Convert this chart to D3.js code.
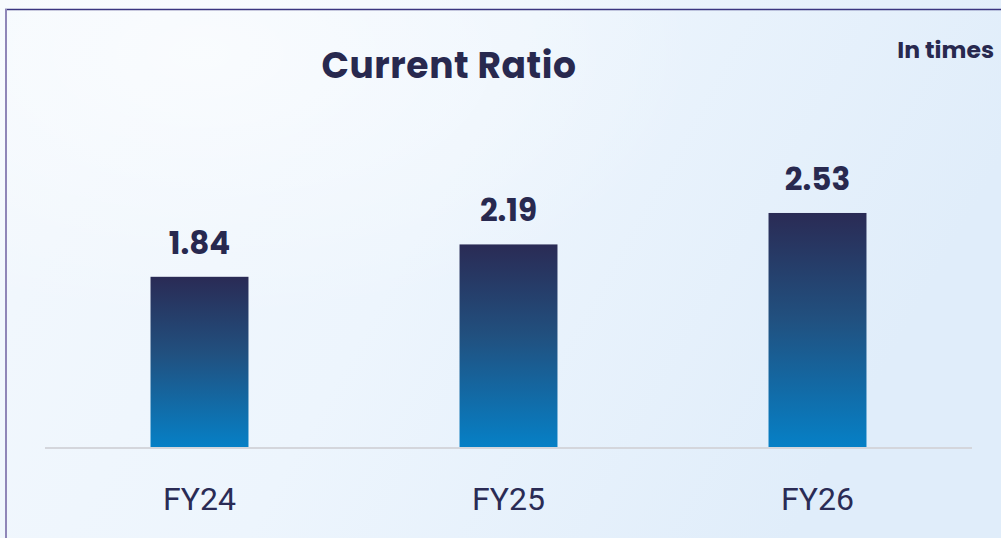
<!DOCTYPE html>
<html><head><meta charset="utf-8">
<script src="https://cdn.jsdelivr.net/npm/d3@7"></script>
<style>html,body{margin:0;padding:0;overflow:hidden;background:#fff}</style>
</head><body>
<script>
const categories = ["FY24", "FY25", "FY26"];
const values = [1.84, 2.19, 2.53];
const valueLabels = ["1.84", "2.19", "2.53"];
const title = "Current Ratio";
const unitLabel = "In times";

const W = 1001, H = 538;
const svg = d3.select("body").append("svg").attr("width", W).attr("height", H);
const defs = svg.append("defs");

const bg = defs.append("linearGradient").attr("id", "bg").attr("x1", 0).attr("y1", 0).attr("x2", 1).attr("y2", 0.3);
bg.append("stop").attr("offset", 0).attr("stop-color", "#f3f8fd");
bg.append("stop").attr("offset", 0.5).attr("stop-color", "#edf5fd");
bg.append("stop").attr("offset", 1).attr("stop-color", "#e0edfa");
const bg2 = defs.append("radialGradient").attr("id", "bg2").attr("cx", 0.2).attr("cy", 0.1).attr("r", 0.5);
bg2.append("stop").attr("offset", 0).attr("stop-color", "#ffffff").attr("stop-opacity", 0.6);
bg2.append("stop").attr("offset", 1).attr("stop-color", "#ffffff").attr("stop-opacity", 0);

const bar = defs.append("linearGradient").attr("id", "bar").attr("x1", 0).attr("y1", 0).attr("x2", 0).attr("y2", 1);
bar.append("stop").attr("offset", 0).attr("stop-color", "#2a2b55");
bar.append("stop").attr("offset", 0.45).attr("stop-color", "#21507f");
bar.append("stop").attr("offset", 1).attr("stop-color", "#0680c6");

svg.append("rect").attr("width", W).attr("height", H).attr("fill", "url(#bg)");
svg.append("rect").attr("width", W).attr("height", H).attr("fill", "url(#bg2)");

// frame
svg.append("line").attr("x1", 5).attr("x2", W).attr("y1", 9.5).attr("y2", 9.5).attr("stroke", "#3a3580").attr("stroke-width", 1.5);
svg.append("line").attr("x1", 6).attr("x2", 6).attr("y1", 9).attr("y2", H).attr("stroke", "#8f86b8").attr("stroke-width", 2);

const x = d3.scaleBand().domain(categories).range([45, 972]).paddingInner(0.683).paddingOuter(0.3415);
const y = d3.scaleLinear().domain([0, 3]).range([447, 447 - 277.5]);

const g = svg.append("g");
g.selectAll("rect.bar").data(values).join("rect").attr("class", "bar")
  .attr("x", (d, i) => x(categories[i])).attr("width", x.bandwidth())
  .attr("y", d => y(d)).attr("height", d => y(0) - y(d)).attr("fill", "url(#bar)");

// baseline
svg.append("line").attr("x1", 45).attr("x2", 972).attr("y1", 448).attr("y2", 448).attr("stroke", "#d4d6dc").attr("stroke-width", 2);

g.selectAll("text.val").data(values).join("text").attr("class", "val")
  .attr("x", (d, i) => x(categories[i]) + x.bandwidth() / 2).attr("y", d => y(d) - 23)
  .attr("text-anchor", "middle").attr("font-family", "Poppins, 'Open Sans', sans-serif").attr("font-weight", 700)
  .attr("font-size", 31).attr("fill", "#28294f").text((d, i) => valueLabels[i]);

const xAxis = svg.append("g").attr("transform", "translate(0,448)")
  .call(d3.axisBottom(x).tickSize(0).tickPadding(0));
xAxis.select(".domain").remove();
xAxis.selectAll("text").attr("y", 62).attr("dy", 0).attr("font-family", "Roboto, sans-serif").attr("font-size", 32).attr("fill", "#2a2b55");

svg.append("text").attr("x", 449).attr("y", 77.5).attr("text-anchor", "middle")
  .attr("font-family", "Poppins, 'Open Sans', sans-serif").attr("font-weight", 700).attr("font-size", 36)
  .attr("letter-spacing", 0.6)
  .attr("fill", "#28294f").text(title);
svg.append("text").attr("x", 994).attr("y", 58).attr("text-anchor", "end")
  .attr("font-family", "Poppins, 'Open Sans', sans-serif").attr("font-weight", 700).attr("font-size", 23.5)
  .attr("fill", "#28294f").text(unitLabel);
</script>
</body></html>
